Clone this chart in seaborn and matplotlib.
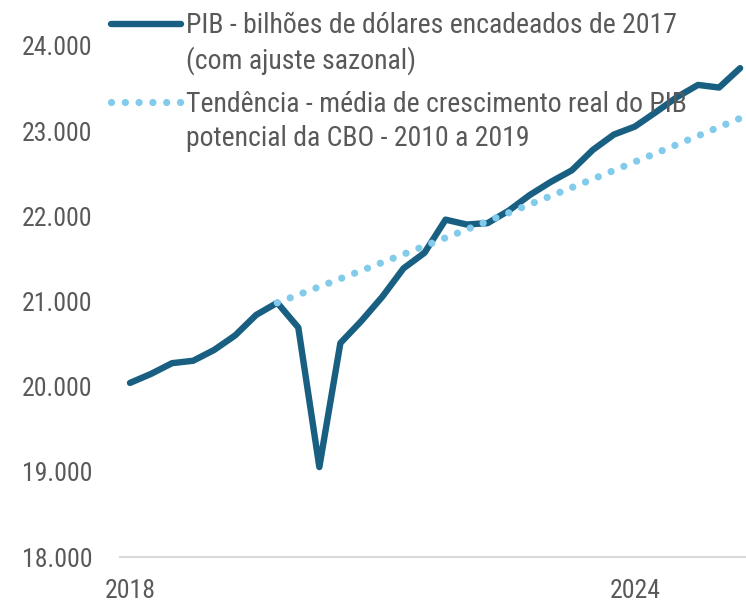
import numpy as np
import pandas as pd
import matplotlib.pyplot as plt
import matplotlib.transforms as mtransforms
import seaborn as sns

# quarterly data, 2018Q1 .. 2025Q2
quarters = ["2018Q1", "2018Q2", "2018Q3", "2018Q4",
            "2019Q1", "2019Q2", "2019Q3", "2019Q4",
            "2020Q1", "2020Q2", "2020Q3", "2020Q4",
            "2021Q1", "2021Q2", "2021Q3", "2021Q4",
            "2022Q1", "2022Q2", "2022Q3", "2022Q4",
            "2023Q1", "2023Q2", "2023Q3", "2023Q4",
            "2024Q1", "2024Q2", "2024Q3", "2024Q4",
            "2025Q1", "2025Q2"]
pib = [20044, 20150, 20276, 20304,
       20431, 20602, 20843, 20985,
       20694, 19056, 20512, 20772,
       21058, 21389, 21572, 21961,
       21904, 21920, 22066, 22250,
       22404, 22540, 22780, 22960,
       23054, 23224, 23400, 23543,
       23512, 23740]
# trend starts at 2019Q4
trend_start = "2019Q4"
trend = [20985, 21079, 21173, 21268, 21363, 21459, 21555, 21651,
         21748, 21845, 21943, 22041, 22140, 22239, 22338, 22438,
         22539, 22640, 22741, 22843, 22945, 23048, 23151]

tick_labels = {"2018Q1": "2018", "2024Q1": "2024"}
label_pib = "PIB - bilhões de dólares encadeados de 2017\n(com ajuste sazonal)"
label_trend = "Tendência - média de crescimento real do PIB\npotencial da CBO - 2010 a 2019"

df = pd.DataFrame({"q": quarters, "pib": pib})
df["pos"] = np.arange(len(df))
t0 = quarters.index(trend_start)
df_trend = pd.DataFrame({"pos": np.arange(t0, t0 + len(trend)), "trend": trend})

sns.set_style("white")
plt.rcParams["font.family"] = ["Roboto Condensed", "DejaVu Sans"]
plt.rcParams["font.stretch"] = "condensed"
grey = "#595959"
dots = (0, (0.01, 1.9))

fig = plt.figure(figsize=(7.46, 6.04), dpi=100)
ax = fig.add_axes([120 / 746, 47 / 604, 626 / 746, 557 / 604])

sns.lineplot(data=df, x="pos", y="pib", ax=ax, color="#185F82", lw=4.6,
             solid_joinstyle="round", solid_capstyle="round", label=label_pib)
sns.lineplot(data=df_trend, x="pos", y="trend", ax=ax, color="#83CBEB", lw=5.2,
             dashes=False, label=label_trend)
ax.lines[1].set_linestyle(dots)
ax.lines[1].set_dash_capstyle("round")

ax.set_xlim(-0.475, 29.28)
ax.set_ylim(18000, 24540)
ax.set_yticks(range(18000, 24001, 1000))
ax.set_yticklabels([f"{v:,}".replace(",", ".") for v in range(18000, 24001, 1000)],
                   color=grey, fontsize=18.5)
ax.set_xticks([quarters.index(k) for k in tick_labels])
ax.set_xticklabels(list(tick_labels.values()), color=grey, fontsize=18.5)
ax.tick_params(axis="y", length=0, pad=20)
ax.tick_params(axis="x", length=0, pad=16)
ax.set_xlabel("")
ax.set_ylabel("")

for s in ["top", "right", "left"]:
    ax.spines[s].set_visible(False)
ax.spines["bottom"].set_color("#d9d9d9")
ax.spines["bottom"].set_linewidth(1.5)

leg = ax.legend(loc="upper left", bbox_to_anchor=(100 / 746, 603 / 604), bbox_transform=fig.transFigure,
                frameon=False, fontsize=20, handlelength=2.5, handletextpad=0.2,
                labelspacing=0.6, borderaxespad=0)
for t in leg.get_texts():
    t.set_color(grey)
    t.set_linespacing(1.3)
# handles sit on the first line of each label, as in the original
lift = mtransforms.ScaledTranslation(0, 0.2, fig.dpi_scale_trans)
for ln in leg.get_lines():
    ln.set_transform(ln.get_transform() + lift)
leg.get_lines()[0].set_solid_capstyle("round")
leg.get_lines()[1].set_linestyle(dots)
leg.get_lines()[1].set_dash_capstyle("round")

fig.savefig("out.png", dpi=100)
